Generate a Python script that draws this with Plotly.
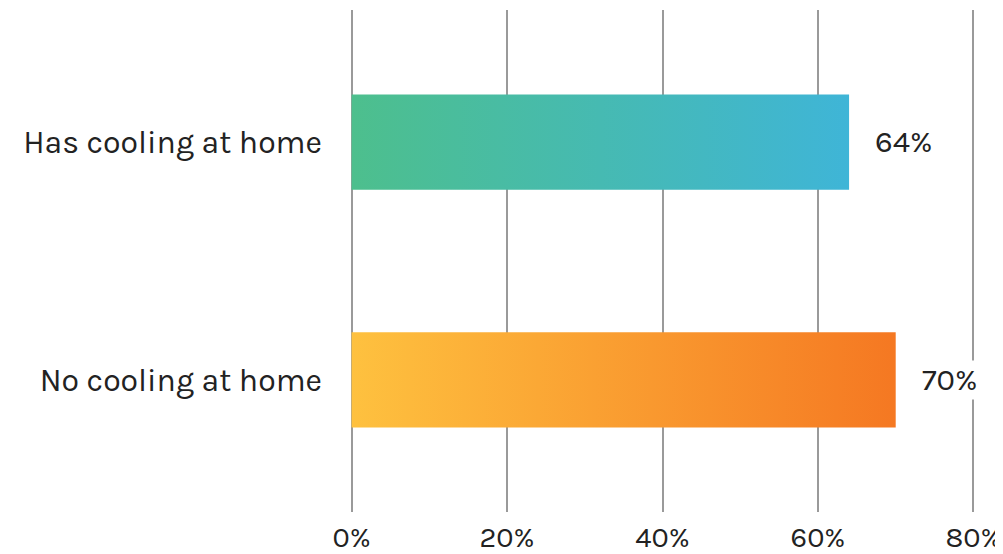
import plotly.graph_objects as go

categories = ["Has cooling at home", "No cooling at home"]
values = [64, 70]
color_starts = ["#4DBF8D", "#FEC13F"]
color_ends = ["#3FB5D7", "#F57822"]
x_ticks = [0, 20, 40, 60, 80]
x_tick_labels = ["0%", "20%", "40%", "60%", "80%"]

FONT = "Karla, Inter, sans-serif"
half = 0.2

fig = go.Figure()
for i, (cat, v) in enumerate(zip(categories, values)):
    fig.add_trace(go.Scatter(
        x=[0, v, v, 0, 0],
        y=[i - half, i - half, i + half, i + half, i - half],
        mode="lines",
        line=dict(width=0),
        fill="toself",
        fillgradient=dict(type="horizontal",
                          colorscale=[[0, color_starts[i]], [1, color_ends[i]]]),
        name=cat,
        hoverinfo="skip",
        showlegend=False,
    ))
    fig.add_annotation(x=v, y=i, text=f"{v}%", showarrow=False,
                       xanchor="left", xshift=24, bgcolor="white",
                       font=dict(family=FONT, size=31, color="#222"))

fig.update_layout(
    width=995, height=546,
    margin=dict(l=342, r=28, t=2, b=42),
    paper_bgcolor="white", plot_bgcolor="white",
    font=dict(family=FONT, size=32, color="#222"),
    showlegend=False,
)
fig.update_xaxes(range=[-0.2, 80.2], tickvals=x_ticks, ticktext=x_tick_labels,
                 tickfont=dict(size=29),
                 showgrid=True, gridcolor="#9a9a9a", gridwidth=1.6,
                 zeroline=False, showline=False, ticks="", automargin=False,
                 ticklabelstandoff=5, ticklabeloverflow="allow", fixedrange=True)
fig.update_yaxes(range=[1.555, -0.555], tickvals=list(range(len(categories))),
                 ticktext=categories, showgrid=False, zeroline=False,
                 showline=False, ticks="", automargin=False,
                 ticklabelstandoff=27, fixedrange=True)

fig.write_html("out.html")
